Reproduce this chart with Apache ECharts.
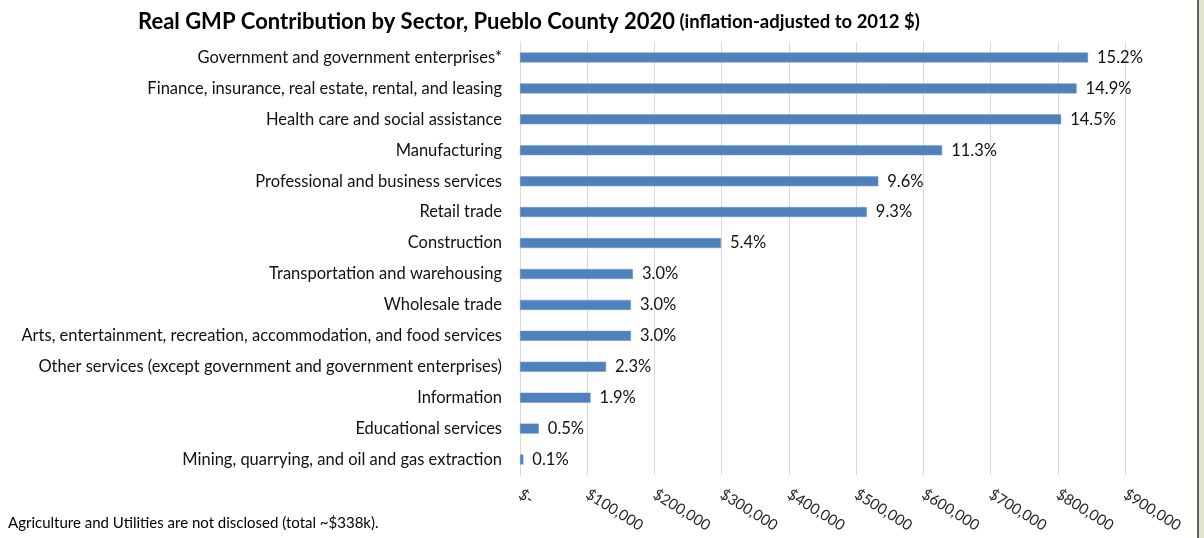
<!DOCTYPE html>
<html>
<head>
<meta charset="utf-8">
<title>Real GMP Contribution by Sector, Pueblo County 2020</title>
<script src="https://cdn.jsdelivr.net/npm/echarts@6/dist/echarts.min.js"></script>
<style>
  html, body { margin: 0; padding: 0; background: #e1e4cd; }
  #wrap { width: 1197px; height: 538px; background: #ffffff; border-right: 2px solid #5f5f5f; }
  #chart { width: 1197px; height: 538px; }
</style>
</head>
<body>
<div id="wrap"><div id="chart"></div></div>
<script>
// Sectors, top to bottom
const sectors = [
  'Government and government enterprises*',
  'Finance, insurance, real estate, rental, and leasing',
  'Health care and social assistance',
  'Manufacturing',
  'Professional and business services',
  'Retail trade',
  'Construction',
  'Transportation and warehousing',
  'Wholesale trade',
  'Arts, entertainment, recreation, accommodation, and food services',
  'Other services (except government and government enterprises)',
  'Information',
  'Educational services',
  'Mining, quarrying, and oil and gas extraction'
];

// Real GMP by sector, 2012 dollars
const realGmp = [845000, 828000, 805000, 628000, 533000, 516000, 299000,
                 168000, 165000, 165000, 128000, 105000, 28000, 5000];

// County total (includes undisclosed agriculture and utilities)
const totalGmp = 5560000;

// Value axis ticks
const axisTicks = [0, 100000, 200000, 300000, 400000, 500000, 600000, 700000, 800000, 900000];
const axisTickLabels = ['$-', '$100,000', '$200,000', '$300,000', '$400,000',
                        '$500,000', '$600,000', '$700,000', '$800,000', '$900,000'];

const footnote = 'Agriculture and Utilities are not disclosed (total ~$338k).';

const FONT = 'Lato, "Liberation Sans", sans-serif';
const chart = echarts.init(document.getElementById('chart'));

chart.setOption({
  animation: false,
  textStyle: { fontFamily: FONT },
  title: {
    text: '{main|Real GMP Contribution by Sector, Pueblo County 2020} {sub|(inflation-adjusted to 2012 $)}',
    left: 133,
    top: 6,
    textStyle: {
      rich: {
        main: { fontFamily: FONT, fontSize: 22, fontWeight: 'bold', color: '#000000' },
        sub: { fontFamily: FONT, fontSize: 18.5, fontWeight: 'bold', color: '#000000' }
      }
    }
  },
  graphic: [{
    type: 'text',
    left: 8,
    top: 516,
    style: { text: footnote, font: '15px ' + FONT, fill: '#000000' }
  }],
  grid: { left: 520, right: 72, top: 42, bottom: 63, containLabel: false },
  xAxis: {
    type: 'value',
    min: axisTicks[0],
    max: axisTicks[axisTicks.length - 1],
    interval: axisTicks[1] - axisTicks[0],
    axisLine: { show: false },
    axisTick: { show: false },
    splitLine: { lineStyle: { color: '#d9d9d9', width: 1 } },
    axisLabel: {
      rotate: -32,
      margin: 18,
      fontSize: 15,
      color: '#262626',
      formatter: v => axisTickLabels[axisTicks.indexOf(v)] ?? ''
    }
  },
  yAxis: {
    type: 'category',
    data: sectors,
    inverse: true,
    axisLine: { show: true, lineStyle: { color: '#d9d9d9' } },
    axisTick: { show: false },
    axisLabel: { fontSize: 16.5, color: '#111111', margin: 18 }
  },
  series: [{
    type: 'bar',
    data: realGmp,
    barWidth: 10,
    itemStyle: { color: '#4f81bd', borderColor: '#6d96c8', borderWidth: 0.5 },
    label: {
      show: true,
      position: 'right',
      distance: 9,
      fontSize: 16.5,
      color: '#111111',
      formatter: p => (p.value / totalGmp * 100).toFixed(1) + '%'
    }
  }]
});
</script>
</body>
</html>
